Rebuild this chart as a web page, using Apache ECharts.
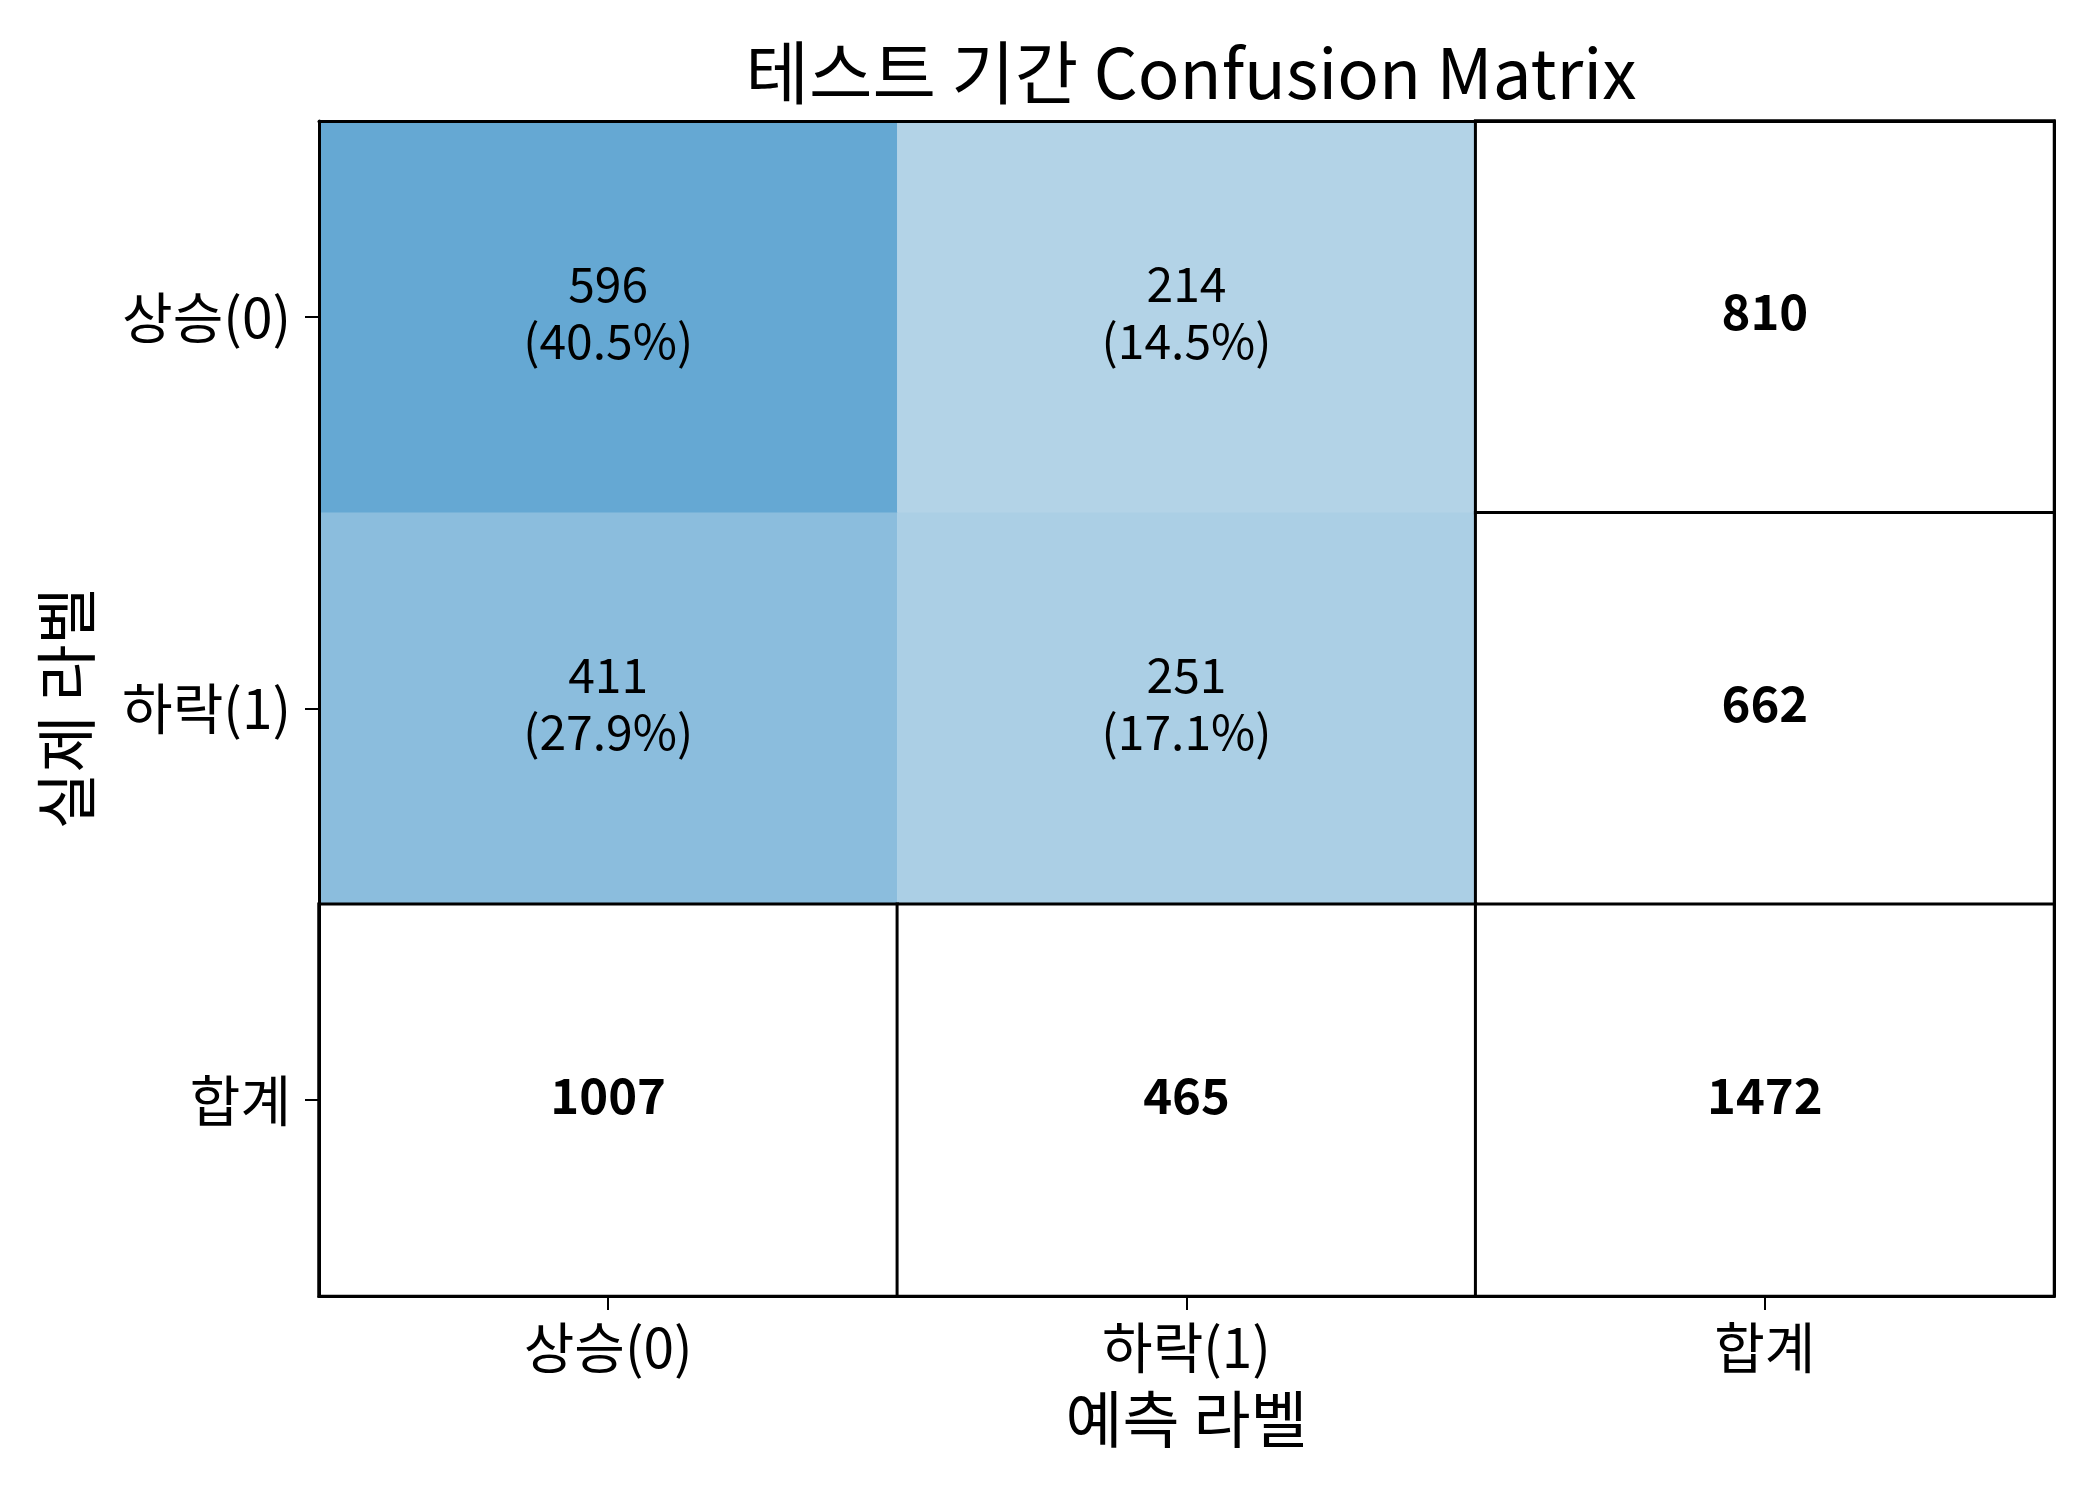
<!DOCTYPE html>
<html>
<head>
<meta charset="utf-8">
<script src="https://cdn.jsdelivr.net/npm/echarts@6/dist/echarts.min.js"></script>
<style>
html,body{margin:0;padding:0;background:#fff;}
#chart{width:2100px;height:1500px;}
</style>
</head>
<body>
<div id="chart"></div>
<script>
// ---- data ----
const titleText = '테스트 기간 Confusion Matrix';
const xName = '예측 라벨';
const yName = '실제 라벨';
const categories = ['상승(0)', '하락(1)', '합계'];
const actualUp = [596, 214];     // 실제 상승(0): 예측 상승, 예측 하락
const actualDown = [411, 251];   // 실제 하락(1): 예측 상승, 예측 하락
const rowTotals = [810, 662];
const colTotals = [1007, 465];
const grandTotal = 1472;

// ---- build series data ----
const coreRows = [actualUp, actualDown];
const coreData = [];
coreRows.forEach((row, r) => row.forEach((v, c) => coreData.push([c, r, v])));
const totalData = [];
rowTotals.forEach((v, r) => totalData.push([2, r, v]));
colTotals.forEach((v, c) => totalData.push([c, 2, v]));
totalData.push([2, 2, grandTotal]);

const FONT = '"Noto Sans CJK KR", "Noto Sans", sans-serif';
const chart = echarts.init(document.getElementById('chart'), null, {renderer: 'canvas'});

const axisLineStyle = {show: true, lineStyle: {color: '#000', width: 3}};

chart.setOption({
  backgroundColor: '#fff',
  animation: false,
  title: {
    text: titleText,
    left: 1186,
    top: 33,
    textAlign: 'center',
    textStyle: {fontFamily: FONT, fontSize: 69, fontWeight: 'normal', color: '#000'}
  },
  grid: {left: 319, right: 46, top: 121, bottom: 204, show: false},
  visualMap: {
    show: false,
    type: 'continuous',
    seriesIndex: 0,
    dimension: 2,
    min: 214,
    max: 596,
    inRange: {color: ['#b3d3e7', '#65a8d3']}
  },
  xAxis: [{
    type: 'category',
    data: categories,
    position: 'bottom',
    z: 10,
    axisLine: axisLineStyle,
    axisTick: {show: true, alignWithLabel: true, length: 14, lineStyle: {color: '#000', width: 2}},
    axisLabel: {fontFamily: FONT, fontSize: 55, color: '#000', margin: 24},
    splitLine: {show: false},
    name: xName,
    nameLocation: 'middle',
    nameGap: 92,
    nameTextStyle: {fontFamily: FONT, fontSize: 62, color: '#000'}
  }, {
    type: 'category',
    data: categories,
    position: 'top',
    z: 10,
    axisLine: axisLineStyle,
    axisTick: {show: false},
    axisLabel: {show: false},
    splitLine: {show: false}
  }],
  yAxis: [{
    type: 'category',
    data: categories,
    inverse: true,
    position: 'left',
    z: 10,
    axisLine: axisLineStyle,
    axisTick: {show: true, alignWithLabel: true, length: 14, lineStyle: {color: '#000', width: 2}},
    axisLabel: {fontFamily: FONT, fontSize: 55, color: '#000', margin: 28},
    splitLine: {show: false},
    name: yName,
    nameLocation: 'middle',
    nameGap: 222,
    nameRotate: 90,
    nameTextStyle: {fontFamily: FONT, fontSize: 62, color: '#000'}
  }, {
    type: 'category',
    data: categories,
    inverse: true,
    position: 'right',
    z: 10,
    axisLine: axisLineStyle,
    axisTick: {show: false},
    axisLabel: {show: false},
    splitLine: {show: false}
  }],
  series: [{
    type: 'heatmap',
    xAxisIndex: 0,
    yAxisIndex: 0,
    data: coreData,
    itemStyle: {borderWidth: 0},
    label: {
      show: true,
      offset: [0, -5],
      fontFamily: FONT,
      fontSize: 48,
      lineHeight: 57,
      color: '#000',
      formatter: p => p.value[2] + '\n(' + (p.value[2] / grandTotal * 100).toFixed(1) + '%)'
    },
    emphasis: {disabled: true}
  }, {
    type: 'heatmap',
    xAxisIndex: 0,
    yAxisIndex: 0,
    data: totalData,
    itemStyle: {color: '#fff', borderColor: '#000', borderWidth: 3},
    label: {
      show: true,
      offset: [0, -5],
      fontFamily: FONT,
      fontSize: 49,
      fontWeight: 'bold',
      color: '#000',
      formatter: p => String(p.value[2])
    },
    emphasis: {disabled: true}
  }]
});
</script>
</body>
</html>
